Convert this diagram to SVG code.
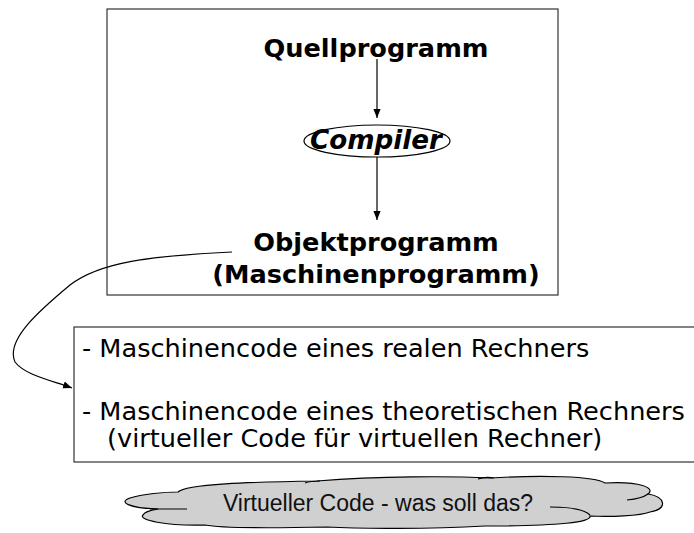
<svg xmlns="http://www.w3.org/2000/svg" width="694" height="533" viewBox="0 0 694 533">
<defs>
<marker id="arr" viewBox="0 0 10 10" refX="10" refY="5" markerWidth="9" markerHeight="9" markerUnits="userSpaceOnUse" orient="auto">
<path d="M0,1 L10,5 L0,9 Z" fill="#000"/>
</marker>
<style>
.box{fill:#fff;stroke:#333;stroke-width:1.2}
.hd{font-family:"DejaVu Sans",Verdana,sans-serif;font-weight:bold;font-size:25.6px;fill:#000;text-anchor:middle}
.it{font-family:"DejaVu Sans",Verdana,sans-serif;font-weight:bold;font-style:italic;font-size:26px;fill:#000;text-anchor:middle}
.tx{font-family:"DejaVu Sans",Verdana,sans-serif;font-size:25.6px;fill:#000}
.cl{font-family:"Liberation Sans",Arial,sans-serif;font-size:23px;fill:#111;text-anchor:middle}
.ln{fill:none;stroke:#000;stroke-width:1.2}
</style>
</defs>
<rect width="694" height="533" fill="#fff"/>
<g id="top-box">
<rect class="box" x="107" y="9" width="451" height="286"/>
</g>
<g id="quellprogramm">
<text class="hd" x="376" y="57">Quellprogramm</text>
</g>
<g id="compiler">
<ellipse cx="377" cy="141" rx="73" ry="16" fill="#fff" stroke="#000" stroke-width="1.2"/>
<text class="it" x="376" y="149" textLength="132" lengthAdjust="spacingAndGlyphs">Compiler</text>
</g>
<g id="objektprogramm">
<text class="hd" x="376" y="251">Objektprogramm</text>
<text class="hd" x="376" y="283">(Maschinenprogramm)</text>
</g>
<g id="list-box">
<rect class="box" x="74" y="327" width="640" height="135"/>
<text class="tx" x="82" y="357">- Maschinencode eines realen Rechners</text>
<text class="tx" x="82" y="420">- Maschinencode eines theoretischen Rechners</text>
<text class="tx" x="107" y="447">(virtueller Code für virtuellen Rechner)</text>
</g>
<g id="cloud">
<path d="M178,492 C186,484 250,482 317,481 C380,476 450,476 490,478 C540,475 595,476 605,483 C640,481 656,488 648,494 C666,497 668,509 650,512 C640,516 610,517 590,516 C592,522 560,526 485,526 C430,529 360,529 327,527 C280,528 220,528 205,525 C165,526 138,520 143,515 C145,511 152,510 158,509 C128,508 118,502 130,498 C142,494 165,492 178,492 Z" fill="#d0d0d0" stroke="#000" stroke-width="1.2"/>
<path class="ln" d="M187,509 C175,509 165,509 150,509"/>
<path class="ln" d="M627,500 C637,499 644,497 648,494"/>
<path class="ln" d="M550,507 C570,507 585,510 590,515"/>
<path class="ln" d="M305,483 C310,481 315,481 320,481"/>
<path class="ln" d="M478,479 C484,477 488,477 494,478"/>
<text class="cl" x="378" y="511">Virtueller Code - was soll das?</text>
</g>
<g id="connectors">
<line class="ln" x1="377" y1="59" x2="377" y2="118" marker-end="url(#arr)"/>
<line class="ln" x1="377" y1="157" x2="377" y2="220" marker-end="url(#arr)"/>
<path class="ln" d="M232,252 C150,256 100,262 70,285 C40,310 5,340 15,362 C25,375 50,380 72,388" marker-end="url(#arr)"/>
</g>
</svg>
